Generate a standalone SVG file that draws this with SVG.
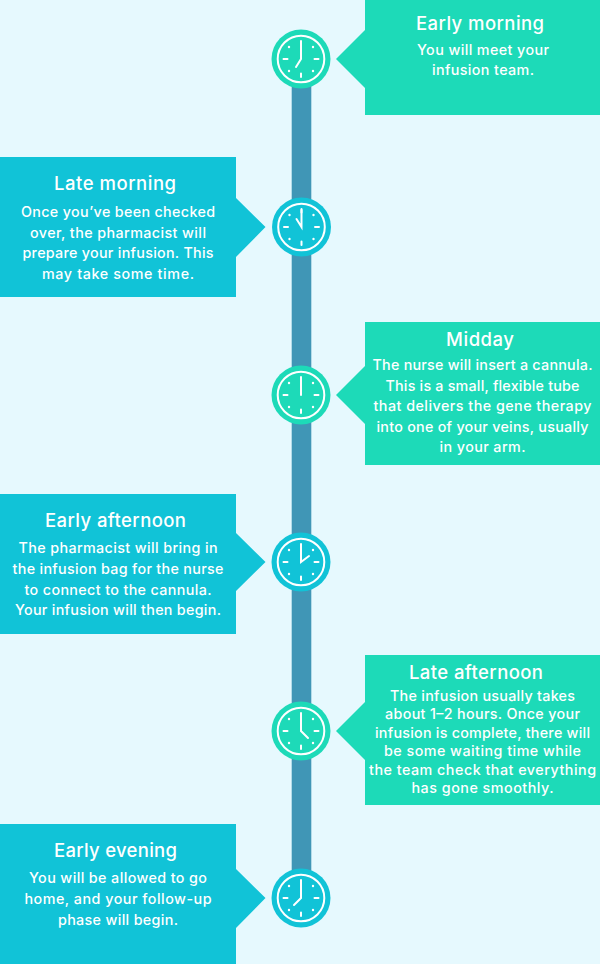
<svg xmlns="http://www.w3.org/2000/svg" width="600" height="964" viewBox="0 0 600 964">
<style>
.g{fill:#1ddab8}.b{fill:#11c3d7}
.t{font-family:"Inter","Noto Sans","Liberation Sans",sans-serif;fill:#fff;text-anchor:middle}
.h{font-size:18.5px;font-weight:500}
.p{font-size:14.3px;font-weight:500}
.ring{fill:none;stroke:#fff;stroke-width:2}
.tick{stroke:#fff;stroke-width:2;stroke-linecap:round;fill:none}
.dot{fill:#fff}
</style>
<defs>
<g id="face">
<circle class="ring" r="23.3"/>
<path class="tick" d="M0-18V-14.5M0 14.5V18M-17.5 0H-13.5M13.5 0H17.5"/>
<circle class="dot" cx="-12" cy="-12" r="1.2"/><circle class="dot" cx="12" cy="-12" r="1.2"/><circle class="dot" cx="-12" cy="12" r="1.2"/><circle class="dot" cx="12" cy="12" r="1.2"/>
</g>
</defs>
<rect width="600" height="964" fill="#e6f9fe"/>
<g id="connectors"><rect x="291.7" y="80" width="19.6" height="800" fill="#4096b6"/></g>

<g id="early-morning">
<path class="g" d="M365 0H600V115H365V88L336 59L365 30Z"/>
<text class="t h" x="480" y="30" textLength="128">Early morning</text>
<text class="t p" x="483" y="55" textLength="132">You will meet your</text>
<text class="t p" x="483" y="75" textLength="102">infusion team.</text>
<circle class="g" cx="301" cy="59" r="29.5"/>
<g transform="translate(301 59)"><use href="#face"/><path class="tick" d="M0-17V0L-5 8"/></g>
</g>

<g id="late-morning">
<path class="b" d="M0 157H236V198L265.5 227L236 257V297H0Z"/>
<text class="t h" x="115" y="190" textLength="122">Late morning</text>
<text class="t p" x="118" y="217" textLength="194">Once you’ve been checked</text>
<text class="t p" x="118" y="237.5" textLength="176">over, the pharmacist will</text>
<text class="t p" x="118" y="258" textLength="191">prepare your infusion. This</text>
<text class="t p" x="118" y="278.5" textLength="152">may take some time.</text>
<circle class="b" cx="301.5" cy="227" r="29.5"/>
<g transform="translate(301.5 227)"><use href="#face"/><path class="tick" d="M0-17V0L-5-8"/></g>
</g>

<g id="midday">
<path class="g" d="M365 322H600V465H365V424L336 395L365 366Z"/>
<text class="t h" x="480" y="346" textLength="68">Midday</text>
<text class="t p" x="482.5" y="370" textLength="220">The nurse will insert a cannula.</text>
<text class="t p" x="482.5" y="390.5" textLength="194">This is a small, flexible tube</text>
<text class="t p" x="482.5" y="411" textLength="218">that delivers the gene therapy</text>
<text class="t p" x="482.5" y="431.5" textLength="212">into one of your veins, usually</text>
<text class="t p" x="482.5" y="452" textLength="86">in your arm.</text>
<circle class="g" cx="301" cy="395" r="29.5"/>
<g transform="translate(301 395)"><use href="#face"/><path class="tick" d="M0-17V0"/></g>
</g>

<g id="early-afternoon">
<path class="b" d="M0 494H236V533L265.5 562L236 591V634H0Z"/>
<text class="t h" x="115.5" y="527" textLength="141">Early afternoon</text>
<text class="t p" x="118" y="553" textLength="199">The pharmacist will bring in</text>
<text class="t p" x="118" y="574" textLength="211">the infusion bag for the nurse</text>
<text class="t p" x="118" y="594.5" textLength="187">to connect to the cannula.</text>
<text class="t p" x="118" y="615" textLength="206">Your infusion will then begin.</text>
<circle class="b" cx="301" cy="562" r="29.5"/>
<g transform="translate(301 562)"><use href="#face"/><path class="tick" d="M0-17V0L8-6"/></g>
</g>

<g id="late-afternoon">
<path class="g" d="M365 655H600V805H365V760L336 731L365 702Z"/>
<text class="t h" x="476" y="678.5" textLength="134">Late afternoon</text>
<text class="t p" x="482.5" y="700.5" textLength="185">The infusion usually takes</text>
<text class="t p" x="482.5" y="719" textLength="195">about 1–2 hours. Once your</text>
<text class="t p" x="482.5" y="737.5" textLength="215">infusion is complete, there will</text>
<text class="t p" x="482.5" y="756" textLength="197">be some waiting time while</text>
<text class="t p" x="482.5" y="774.5" textLength="227">the team check that everything</text>
<text class="t p" x="482.5" y="793" textLength="142">has gone smoothly.</text>
<circle class="g" cx="301" cy="731" r="29.5"/>
<g transform="translate(301 731)"><use href="#face"/><path class="tick" d="M0-17V0L7 7"/></g>
</g>

<g id="early-evening">
<path class="b" d="M0 824H236V869L265.5 898L236 928V964H0Z"/>
<text class="t h" x="115.5" y="857" textLength="123">Early evening</text>
<text class="t p" x="118" y="883" textLength="178">You will be allowed to go</text>
<text class="t p" x="118" y="904" textLength="187">home, and your follow-up</text>
<text class="t p" x="118" y="925" textLength="120">phase will begin.</text>
<circle class="b" cx="301" cy="898" r="29.5"/>
<g transform="translate(301 898)"><use href="#face"/><path class="tick" d="M0-17V0L-7 7"/></g>
</g>
</svg>
